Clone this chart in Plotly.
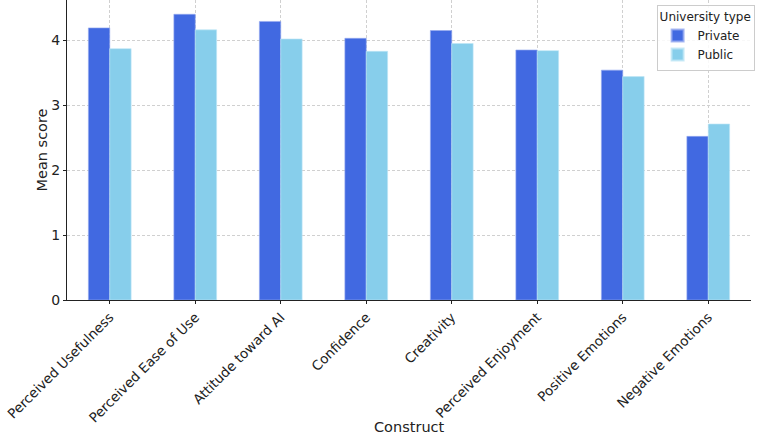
import plotly.graph_objects as go

categories = ["Perceived Usefulness", "Perceived Ease of Use", "Attitude toward AI",
              "Confidence", "Creativity", "Perceived Enjoyment",
              "Positive Emotions", "Negative Emotions"]
private_vals = [4.19, 4.40, 4.29, 4.03, 4.15, 3.85, 3.54, 2.52]
public_vals = [3.87, 4.16, 4.02, 3.83, 3.95, 3.84, 3.44, 2.71]
y_ticks = [0, 1, 2, 3, 4]

FONT = "DejaVu Sans"

fig = go.Figure()
fig.add_trace(go.Bar(x=categories, y=private_vals, name="Private",
                     marker=dict(color="#4169E1", line=dict(color="rgba(150,170,240,0.8)", width=0.8))))
fig.add_trace(go.Bar(x=categories, y=public_vals, name="Public",
                     marker=dict(color="#87CEEB", line=dict(color="rgba(190,230,245,0.8)", width=0.8))))

fig.update_layout(
    width=758, height=442,
    barmode="group", bargap=0.5, bargroupgap=0,
    plot_bgcolor="white", paper_bgcolor="white",
    margin=dict(l=67, r=7, t=0, b=142, autoexpand=False),
    font=dict(family=FONT, size=14, color="#222222"),
    legend=dict(
        title=dict(text="University type", font=dict(family=FONT, size=12), side="top"),
        font=dict(family=FONT, size=12),
        x=0.862, y=0.985, xanchor="left", yanchor="top",
        bgcolor="rgba(255,255,255,0.85)", bordercolor="#cccccc", borderwidth=1,
        tracegroupgap=0, itemsizing="constant", entrywidth=48,
    ),
    xaxis=dict(
        tickangle=-45, ticks="outside", ticklen=3, tickcolor="#222222",
        showline=True, linecolor="#222222", linewidth=1.2,
        showgrid=True, gridcolor="#d0d0d0", griddash="3px,2px", gridwidth=0.8,
        range=[-0.5, 7.5], tickfont=dict(family=FONT, size=13.5), automargin=False,
    ),
    yaxis=dict(
        title=dict(text="Mean score", font=dict(family=FONT, size=14.5), standoff=0),
        range=[0, 4.62], tickvals=y_ticks, ticks="outside", ticklen=3, tickcolor="#222222",
        showline=True, linecolor="#222222", linewidth=1.2,
        showgrid=True, gridcolor="#d0d0d0", griddash="3px,2px", gridwidth=0.8,
        zeroline=False, tickfont=dict(family=FONT, size=14), automargin=False,
    ),
    annotations=[dict(text="Construct", xref="paper", yref="paper", x=0.5, y=-0.423,
                      xanchor="center", yanchor="middle", showarrow=False,
                      font=dict(family=FONT, size=14.5, color="#222222"))],
)

fig.write_html("out.html", config={"displayModeBar": False},
               post_script="document.body.style.margin='0';")
